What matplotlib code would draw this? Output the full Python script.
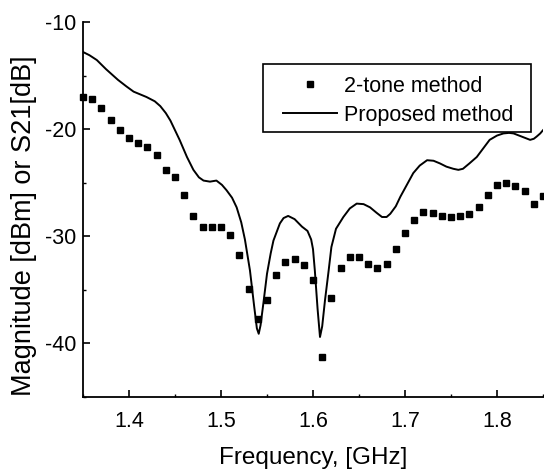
import numpy as np
import matplotlib
matplotlib.use("Agg")
import matplotlib.pyplot as plt
from matplotlib.ticker import MultipleLocator
from matplotlib.patches import Rectangle

# 2-tone method measurements (one square every 10 MHz)
toneFreq = [1.35, 1.36, 1.37, 1.38, 1.39, 1.40, 1.41, 1.42, 1.43, 1.44,
            1.45, 1.46, 1.47, 1.48, 1.49, 1.50, 1.51, 1.52, 1.53, 1.54,
            1.55, 1.56, 1.57, 1.58, 1.59, 1.60, 1.61, 1.62, 1.63, 1.64,
            1.65, 1.66, 1.67, 1.68, 1.69, 1.70, 1.71, 1.72, 1.73, 1.74,
            1.75, 1.76, 1.77, 1.78, 1.79, 1.80, 1.81, 1.82, 1.83, 1.84,
            1.85]
toneMag = [-16.98, -17.2, -18.07, -19.1, -20.1, -20.8, -21.3, -21.7, -22.4, -23.8,
           -24.5, -26.1, -28.1, -29.1, -29.1, -29.1, -29.9, -31.75, -34.9, -37.7,
           -35.9, -33.6, -32.4, -32.1, -32.7, -34.1, -41.3, -35.8, -33.0, -31.9,
           -31.9, -32.6, -33.0, -32.6, -31.2, -29.7, -28.45, -27.7, -27.8, -28.1,
           -28.2, -28.1, -27.9, -27.3, -26.1, -25.2, -25.0, -25.3, -25.8, -27.0,
           -26.2]

# Proposed method S21 curve (traced)
propFreq = [1.350, 1.357, 1.365, 1.375, 1.388, 1.397, 1.405, 1.419, 1.428, 1.434,
            1.440, 1.445, 1.455, 1.463, 1.470, 1.476, 1.481, 1.488, 1.495, 1.501,
            1.506, 1.512, 1.517, 1.522, 1.526, 1.5315, 1.536, 1.539, 1.541, 1.543,
            1.546, 1.550, 1.554, 1.557, 1.564, 1.568, 1.573, 1.580, 1.588, 1.594,
            1.598, 1.600, 1.602, 1.605, 1.6076, 1.610, 1.613, 1.617, 1.620, 1.625,
            1.633, 1.640, 1.6475, 1.655, 1.662, 1.669, 1.675, 1.680, 1.684, 1.690,
            1.695, 1.702, 1.709, 1.716, 1.724, 1.731, 1.738, 1.745, 1.7525, 1.758,
            1.763, 1.770, 1.778, 1.785, 1.792, 1.800, 1.807, 1.813, 1.818, 1.827,
            1.836, 1.840, 1.843, 1.847, 1.850]
propMag = [-12.8, -13.1, -13.55, -14.4, -15.4, -16.0, -16.5, -17.0, -17.4, -17.85,
           -18.5, -19.2, -21.0, -22.6, -23.8, -24.5, -24.8, -24.9, -24.8, -25.2,
           -25.7, -26.4, -27.3, -28.7, -30.3, -33.2, -36.5, -38.6, -39.1, -38.3,
           -36.3, -33.5, -31.6, -30.4, -28.8, -28.3, -28.1, -28.4, -29.1, -29.5,
           -30.3, -31.2, -33.2, -36.8, -39.4, -38.4, -36.0, -33.2, -31.0, -29.3,
           -28.2, -27.4, -26.95, -27.0, -27.3, -27.8, -28.2, -28.2, -27.9, -27.2,
           -26.3, -25.2, -24.1, -23.4, -22.9, -22.95, -23.2, -23.5, -23.7, -23.8,
           -23.7, -23.2, -22.6, -21.8, -21.0, -20.6, -20.4, -20.35, -20.4, -20.7,
           -21.0, -20.9, -20.7, -20.4, -20.1]

plt.rcParams["font.family"] = ["Liberation Sans", "DejaVu Sans"]
plt.rcParams["axes.unicode_minus"] = False

fig = plt.figure(figsize=(5.44, 4.75), dpi=100)
ax = fig.add_axes([83 / 544, 78 / 475, 460 / 544, 375 / 475])

ax.plot(toneFreq, toneMag, linestyle="none", marker="s", markersize=4.8,
        color="black", label="2-tone method", clip_on=False)
ax.plot(propFreq, propMag, color="black", linewidth=1.4, label="Proposed method")

ax.set_xlim(1.35, 1.85)
ax.set_ylim(-45, -10)
ax.xaxis.set_minor_locator(MultipleLocator(0.05))
ax.yaxis.set_minor_locator(MultipleLocator(5))
ax.set_xticks([1.4, 1.5, 1.6, 1.7, 1.8])
ax.set_xticklabels(["1.4", "1.5", "1.6", "1.7", "1.8"])
ax.set_yticks([-10, -20, -30, -40])
ax.set_yticklabels(["-10", "-20", "-30", "-40"])

ax.spines["top"].set_visible(False)
ax.spines["right"].set_visible(False)
ax.spines["left"].set_linewidth(1.3)
ax.spines["bottom"].set_linewidth(1.3)
ax.tick_params(which="major", direction="in", length=5, width=1.2, labelsize=15.5)
ax.tick_params(axis="x", which="major", pad=10)
ax.tick_params(axis="y", which="major", pad=5)
ax.tick_params(which="minor", direction="in", length=2.5, width=1.0)

ax.set_xlabel("Frequency, [GHz]", fontsize=17.5, labelpad=11)
ax.set_ylabel("Magnitude [dBm] or S21[dB]", fontsize=19.5)
ax.yaxis.set_label_coords(-0.10, 0.456)

# legend box drawn separately so its padding can match the original
frame = Rectangle((263 / 544, 1 - 132 / 475), 268 / 544, 68 / 475,
                  transform=fig.transFigure, facecolor="white",
                  edgecolor="black", linewidth=1.2, zorder=5)
fig.patches.append(frame)
leg = fig.legend(*ax.get_legend_handles_labels(), loc="upper left",
                 bbox_to_anchor=(283 / 544, 1 - 76 / 475),
                 fontsize=15.5, frameon=False, borderpad=0, labelspacing=0.35,
                 handlelength=2.5, handletextpad=0.33, borderaxespad=0)
leg.set_zorder(6)

fig.savefig("out.png", dpi=100)
